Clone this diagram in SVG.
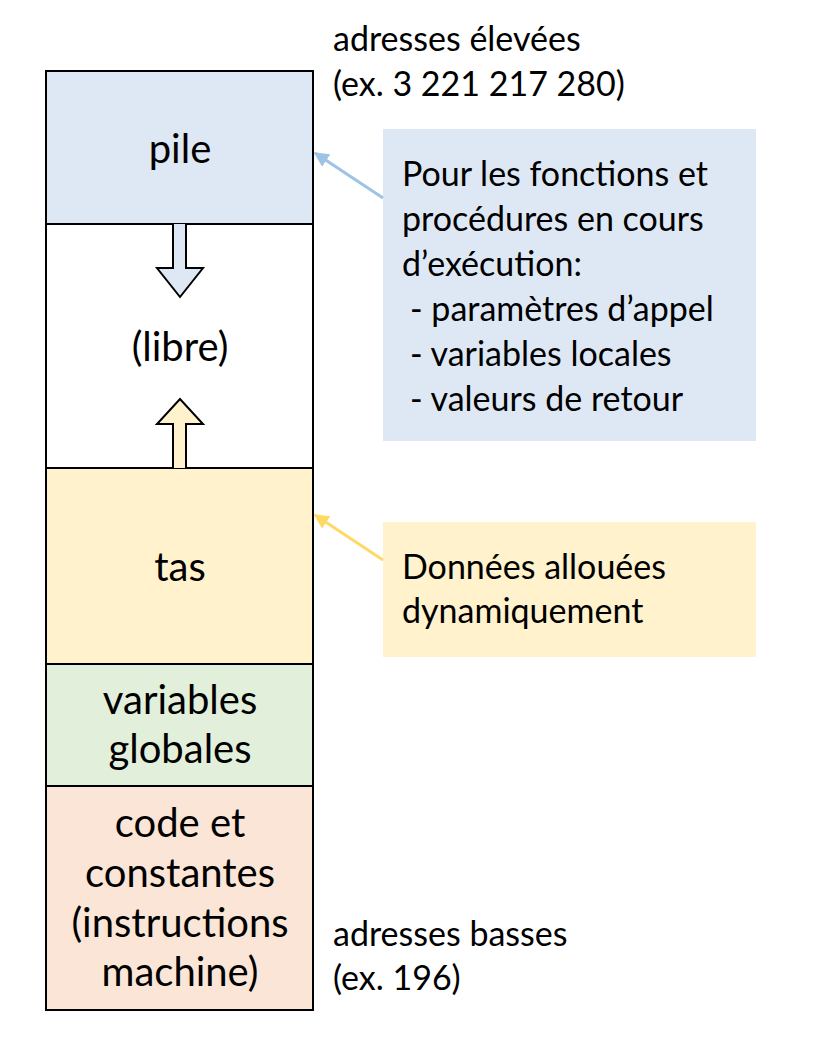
<svg xmlns="http://www.w3.org/2000/svg" width="816" height="1060" viewBox="0 0 816 1060">
<style>
text{font-family:Lato,"Open Sans","Liberation Sans",sans-serif;font-size:34px;fill:#000}
.c{text-anchor:middle;font-size:40px}
.seg{stroke:#000;stroke-width:2}
</style>
<defs>
<marker id="mb" viewBox="0 0 10 10" refX="9" refY="5" markerWidth="5" markerHeight="5" orient="auto"><path d="M0,0L10,5L0,10z" fill="#9dc3e6"/></marker>
<marker id="my" viewBox="0 0 10 10" refX="9" refY="5" markerWidth="5" markerHeight="5" orient="auto"><path d="M0,0L10,5L0,10z" fill="#ffd966"/></marker>
</defs>
<rect width="816" height="1060" fill="#fff"/>
<g id="pile"><rect class="seg" x="46" y="71" width="267" height="153" fill="#dee8f5"/><text class="c" x="180" y="163">pile</text></g>
<g id="libre"><rect class="seg" x="46" y="224" width="267" height="244" fill="#fff"/><text class="c" x="180" y="361">(libre)</text></g>
<g id="tas"><rect class="seg" x="46" y="468" width="267" height="196" fill="#fff2cc"/><text class="c" x="180" y="581">tas</text></g>
<g id="globales"><rect class="seg" x="46" y="664" width="267" height="122" fill="#e2efda"/><text class="c" x="180" y="714">variables</text><text class="c" x="180" y="763">globales</text></g>
<g id="code"><rect class="seg" x="46" y="786" width="267" height="224" fill="#fbe5d6"/><text class="c" x="180" y="837">code et</text><text class="c" x="180" y="887">constantes</text><text class="c" x="180" y="937">(instructions</text><text class="c" x="180" y="986">machine)</text></g>
<g id="arrow-down"><path d="M173,224V268H157L180,297L203,268H186V224" fill="#dee8f5" stroke="#000" stroke-width="2"/></g>
<g id="arrow-up"><path d="M173,468V424H157L180,399L203,424H186V468" fill="#fff2cc" stroke="#000" stroke-width="2"/></g>
<g id="note-pile"><rect x="383" y="129" width="373" height="312" fill="#dee8f5"/>
<text x="402" y="186">Pour les fonctions et</text>
<text x="402" y="231">procédures en cours</text>
<text x="402" y="276">d’exécution:</text>
<text x="410" y="321">- paramètres d’appel</text>
<text x="410" y="366">- variables locales</text>
<text x="410" y="411">- valeurs de retour</text></g>
<g id="note-tas"><rect x="383" y="522" width="373" height="135" fill="#fff2cc"/>
<text x="402" y="579">Données allouées</text>
<text x="402" y="623">dynamiquement</text></g>
<g id="labels">
<text x="333" y="51">adresses élevées</text>
<text x="333" y="96">(ex. 3 221 217 280)</text>
<text x="333" y="946">adresses basses</text>
<text x="333" y="990">(ex. 196)</text></g>
<g id="connectors">
<line x1="383" y1="198" x2="315" y2="153" stroke="#9dc3e6" stroke-width="3" marker-end="url(#mb)"/>
<line x1="383" y1="560" x2="315" y2="515" stroke="#ffd966" stroke-width="3" marker-end="url(#my)"/>
</g>
</svg>
